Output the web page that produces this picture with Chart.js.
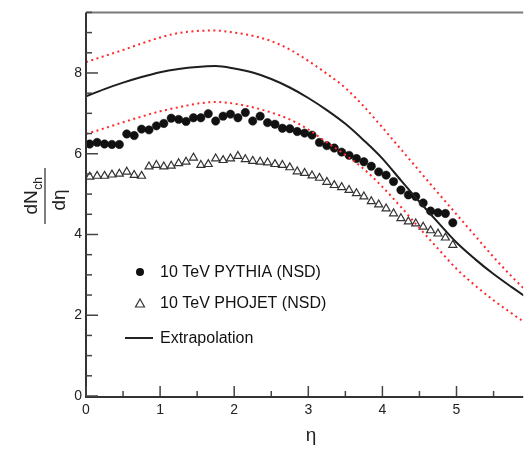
<!DOCTYPE html>
<html>
<head>
<meta charset="utf-8">
<script src="https://cdn.jsdelivr.net/npm/chart.js@4/dist/chart.umd.min.js"></script>
<style>
  html, body { margin: 0; padding: 0; background: #ffffff; }
  #wrap { width: 529px; height: 449px; }
</style>
</head>
<body>
<div id="wrap"><canvas id="c" width="529" height="449"></canvas></div>
<script>
// Pseudorapidity bin centres of the generator points
const etaBins = [0.05, 0.15, 0.25, 0.35, 0.45, 0.55, 0.65, 0.75, 0.85, 0.95,
                 1.05, 1.15, 1.25, 1.35, 1.45, 1.55, 1.65, 1.75, 1.85, 1.95,
                 2.05, 2.15, 2.25, 2.35, 2.45, 2.55, 2.65, 2.75, 2.85, 2.95,
                 3.05, 3.15, 3.25, 3.35, 3.45, 3.55, 3.65, 3.75, 3.85, 3.95,
                 4.05, 4.15, 4.25, 4.35, 4.45, 4.55, 4.65, 4.75, 4.85, 4.95];

// 10 TeV PYTHIA (NSD)
const pythia = [6.24, 6.28, 6.24, 6.23, 6.23, 6.49, 6.45, 6.61, 6.59, 6.69,
                6.75, 6.88, 6.85, 6.80, 6.89, 6.89, 6.99, 6.81, 6.93, 6.98,
                6.89, 7.02, 6.81, 6.93, 6.77, 6.73, 6.63, 6.62, 6.55, 6.51,
                6.46, 6.28, 6.20, 6.14, 6.04, 5.96, 5.88, 5.80, 5.69, 5.55,
                5.47, 5.31, 5.10, 4.98, 4.94, 4.78, 4.58, 4.54, 4.52, 4.29];

// 10 TeV PHOJET (NSD)
const phojet = [5.43, 5.45, 5.45, 5.48, 5.50, 5.55, 5.47, 5.45, 5.68, 5.72,
                5.68, 5.70, 5.76, 5.80, 5.90, 5.72, 5.74, 5.88, 5.84, 5.88,
                5.94, 5.86, 5.82, 5.80, 5.78, 5.74, 5.72, 5.66, 5.56, 5.52,
                5.46, 5.40, 5.30, 5.22, 5.17, 5.10, 5.02, 4.94, 4.82, 4.74,
                4.64, 4.52, 4.40, 4.32, 4.27, 4.19, 4.10, 4.02, 3.92, 3.74];

// Extrapolation curve and its uncertainty band
const curveEta = [0, 0.25, 0.5, 0.75, 1.0, 1.25, 1.5, 1.75, 2.0, 2.25, 2.5, 2.75, 3.0,
                  3.25, 3.5, 3.75, 4.0, 4.25, 4.5, 4.75, 5.0, 5.25, 5.5, 5.75, 6.0];
const extrapolation = [7.42, 7.60, 7.76, 7.90, 8.02, 8.10, 8.15, 8.17, 8.11, 8.01, 7.85, 7.64, 7.38,
                       7.08, 6.74, 6.33, 5.88, 5.34, 4.81, 4.30, 3.80, 3.39, 3.02, 2.69, 2.37];
const upperBand = [8.27, 8.42, 8.57, 8.73, 8.88, 8.99, 9.04, 9.05, 9.00, 8.92, 8.79, 8.58, 8.30,
                   7.98, 7.63, 7.17, 6.65, 6.11, 5.57, 5.03, 4.50, 3.97, 3.44, 2.95, 2.50];
const lowerBand = [6.49, 6.63, 6.78, 6.92, 7.05, 7.15, 7.24, 7.28, 7.24, 7.15, 7.02, 6.85, 6.60,
                   6.28, 5.97, 5.62, 5.18, 4.68, 4.16, 3.65, 3.15, 2.74, 2.37, 2.04, 1.72];

const xTickValues = [0, 1, 2, 3, 4, 5];
const yTickValues = [0, 2, 4, 6, 8];

const legendLabels = ['10 TeV PYTHIA (NSD)', '10 TeV PHOJET (NSD)', 'Extrapolation'];

const FONT = '"Liberation Sans", Arial, Helvetica, sans-serif';
const pts = (xs, ys) => xs.map((x, i) => ({ x: x, y: ys[i] }));

// Frame, inward-pointing tick marks, rotated y title and the legend box
const decorations = {
  id: 'decorations',
  afterDraw(chart) {
    const { ctx, chartArea: a, scales } = chart;
    const xs = scales.x, ys = scales.y;
    ctx.save();

    // frame
    ctx.lineCap = 'butt';
    ctx.strokeStyle = '#7a7a7a';
    ctx.lineWidth = 2;
    ctx.beginPath(); ctx.moveTo(a.left, a.top); ctx.lineTo(a.right, a.top); ctx.stroke();
    ctx.strokeStyle = '#333333';
    ctx.beginPath(); ctx.moveTo(a.left, a.top); ctx.lineTo(a.left, a.bottom + 1);
    ctx.lineTo(a.right, a.bottom + 1); ctx.stroke();

    // y ticks: major every 2, minor every 0.5
    ctx.lineWidth = 1.5;
    ctx.strokeStyle = '#444444';
    for (let k = 0; k <= 19; k++) {
      const v = k * 0.5;
      const py = ys.getPixelForValue(v);
      const len = (k % 4 === 0) ? 12 : 6;
      ctx.beginPath(); ctx.moveTo(a.left, py); ctx.lineTo(a.left + len, py); ctx.stroke();
    }
    // x ticks: major every 1, minor every 0.5
    for (let k = 0; k <= 11; k++) {
      const v = k * 0.5;
      const px = xs.getPixelForValue(v);
      if (px > a.right) continue;
      const len = (k % 2 === 0) ? 10 : 5;
      ctx.beginPath(); ctx.moveTo(px, a.bottom); ctx.lineTo(px, a.bottom - len); ctx.stroke();
    }

    // y axis title: dN_ch / dη
    ctx.save();
    ctx.translate(45, 196);
    ctx.rotate(-Math.PI / 2);
    ctx.fillStyle = '#222222';
    ctx.textBaseline = 'alphabetic';
    ctx.textAlign = 'left';
    ctx.font = '19px ' + FONT;
    const wD = ctx.measureText('dN').width;
    ctx.font = '12px ' + FONT;
    const wS = ctx.measureText('ch').width;
    const numStart = -(wD + wS) / 2;
    ctx.font = '19px ' + FONT;
    ctx.fillText('dN', numStart, -8);
    ctx.font = '12px ' + FONT;
    ctx.fillText('ch', numStart + wD + 0.5, -3);
    ctx.strokeStyle = '#555555';
    ctx.lineWidth = 1.5;
    ctx.beginPath(); ctx.moveTo(-28, 0); ctx.lineTo(28, 0); ctx.stroke();
    ctx.font = '19px ' + FONT;
    ctx.textAlign = 'center';
    ctx.fillText('d\u03B7', -4, 20);
    ctx.restore();

    // x axis title
    ctx.fillStyle = '#222222';
    ctx.font = '19px ' + FONT;
    ctx.textAlign = 'center';
    ctx.textBaseline = 'alphabetic';
    ctx.fillText('\u03B7', 311, 441);

    // legend
    ctx.font = '16px ' + FONT;
    ctx.textAlign = 'left';
    ctx.textBaseline = 'middle';
    ctx.fillStyle = '#111111';
    ctx.beginPath(); ctx.arc(140, 272, 4, 0, Math.PI * 2); ctx.fill();
    ctx.fillText(legendLabels[0], 160, 273);

    ctx.strokeStyle = '#333333';
    ctx.lineWidth = 1.2;
    ctx.beginPath();
    ctx.moveTo(140, 299); ctx.lineTo(144.5, 307); ctx.lineTo(135.5, 307); ctx.closePath();
    ctx.stroke();
    ctx.fillText(legendLabels[1], 160, 304);

    ctx.strokeStyle = '#222222';
    ctx.lineWidth = 2;
    ctx.beginPath(); ctx.moveTo(125, 338); ctx.lineTo(153, 338); ctx.stroke();
    ctx.fillText(legendLabels[2], 160, 339);

    ctx.restore();
  }
};

new Chart(document.getElementById('c'), {
  type: 'scatter',
  data: {
    datasets: [
      {
        label: 'upper',
        data: pts(curveEta, upperBand),
        showLine: true,
        borderColor: '#ff2a2a',
        borderWidth: 2,
        borderDash: [2, 3.5],
        pointRadius: 0,
        cubicInterpolationMode: 'monotone',
        order: 0
      },
      {
        label: 'lower',
        data: pts(curveEta, lowerBand),
        showLine: true,
        borderColor: '#ff2a2a',
        borderWidth: 2,
        borderDash: [2, 3.5],
        pointRadius: 0,
        cubicInterpolationMode: 'monotone',
        order: 0
      },
      {
        label: legendLabels[2],
        data: pts(curveEta, extrapolation),
        showLine: true,
        borderColor: '#1e1e1e',
        borderWidth: 2,
        pointRadius: 0,
        cubicInterpolationMode: 'monotone',
        order: 1
      },
      {
        label: legendLabels[0],
        data: pts(etaBins, pythia),
        showLine: false,
        pointStyle: 'circle',
        pointRadius: 4.2,
        backgroundColor: '#111111',
        borderColor: '#111111',
        borderWidth: 0.5,
        order: 2
      },
      {
        label: legendLabels[1],
        data: pts(etaBins, phojet),
        showLine: false,
        pointStyle: 'triangle',
        pointRadius: 4.6,
        backgroundColor: 'rgba(255,255,255,0)',
        borderColor: '#333333',
        borderWidth: 1.2,
        order: 3
      }
    ]
  },
  options: {
    responsive: false,
    animation: false,
    clip: true,
    layout: { padding: { left: 0, top: 7, right: 0, bottom: 0 } },
    plugins: {
      legend: { display: false },
      tooltip: { enabled: false }
    },
    scales: {
      x: {
        type: 'linear',
        min: 0,
        max: 5.9,
        afterBuildTicks: (s) => { s.ticks = xTickValues.map(v => ({ value: v })); },
        afterFit: (s) => { s.height = 53; },
        grid: { display: false, drawTicks: false },
        border: { display: false },
        ticks: {
          padding: 6,
          color: '#222222',
          font: { family: FONT, size: 14 },
          maxRotation: 0,
          autoSkip: false
        }
      },
      y: {
        type: 'linear',
        min: 0,
        max: 9.5,
        afterBuildTicks: (s) => { s.ticks = yTickValues.map(v => ({ value: v })); },
        afterFit: (s) => { s.width = 86; },
        grid: { display: false, drawTicks: false },
        border: { display: false },
        ticks: {
          padding: 4,
          color: '#222222',
          font: { family: FONT, size: 14 },
          autoSkip: false
        }
      }
    }
  },
  plugins: [decorations]
});
</script>
</body>
</html>
